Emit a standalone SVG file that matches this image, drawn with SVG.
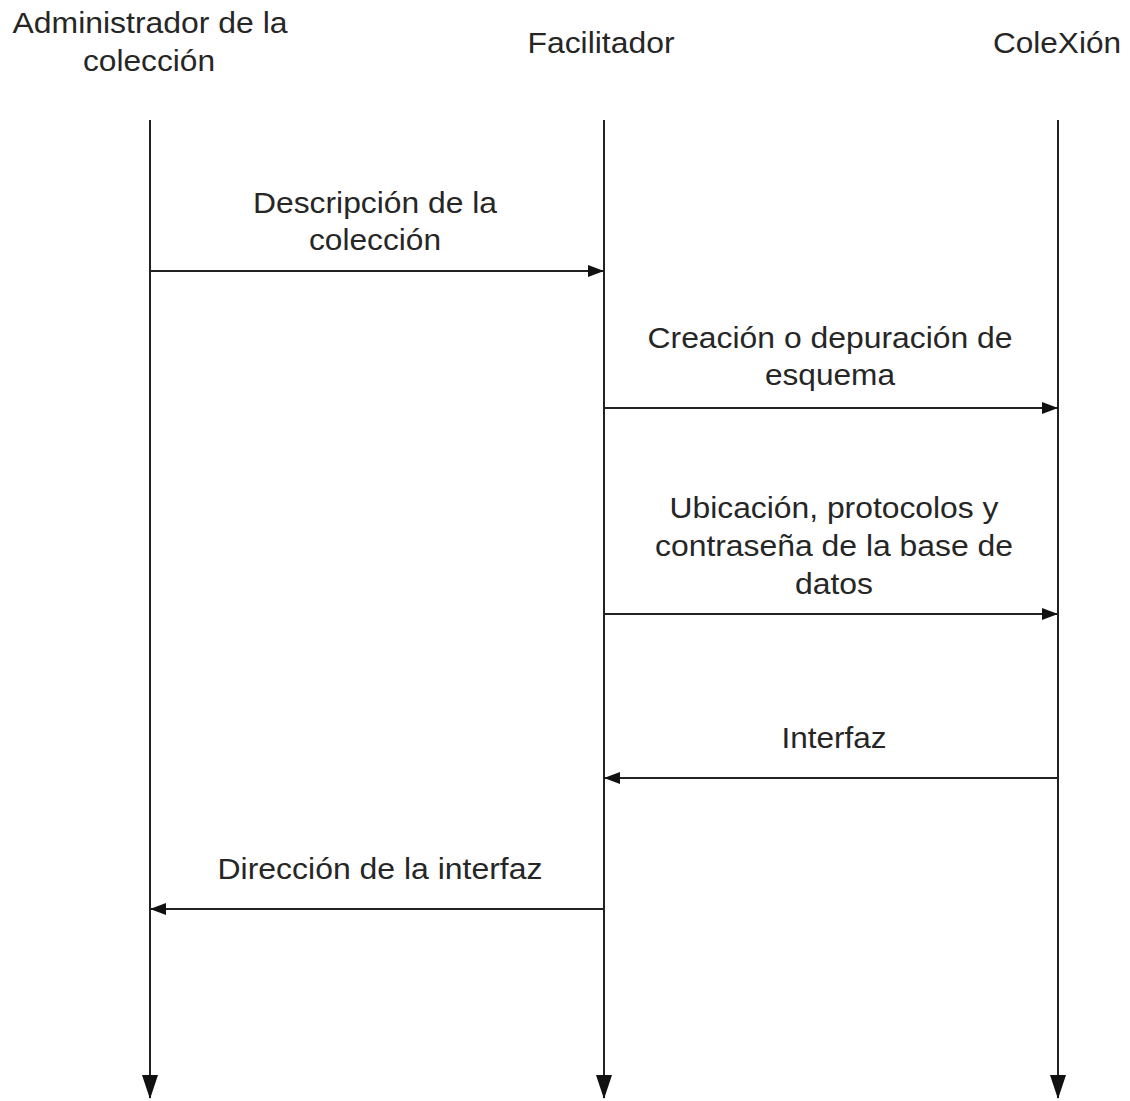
<svg xmlns="http://www.w3.org/2000/svg" width="1130" height="1101" viewBox="0 0 1130 1101">
<style>
text{font-family:"Liberation Sans",Arial,sans-serif;font-size:29px;fill:#262626;text-anchor:middle}
.life{stroke:#222;stroke-width:2;fill:none}
.msg{stroke:#222;stroke-width:2;fill:none}
</style>
<defs>
<marker id="big" viewBox="0 0 24 16" refX="23" refY="8" markerUnits="userSpaceOnUse" markerWidth="24" markerHeight="16" orient="auto">
<path d="M0,0 L24,8 L0,16 Z" fill="#111"/>
</marker>
<marker id="small" viewBox="0 0 16 12" refX="16" refY="6" markerUnits="userSpaceOnUse" markerWidth="16" markerHeight="12" orient="auto">
<path d="M0,0 L16,6 L0,12 Z" fill="#111"/>
</marker>
</defs>
<rect width="1130" height="1101" fill="#fff"/>
<g id="admin">
<text x="150" y="33" textLength="275" lengthAdjust="spacingAndGlyphs">Administrador de la</text>
<text x="149" y="71" textLength="132" lengthAdjust="spacingAndGlyphs">colección</text>
</g>
<g id="facilitador">
<text x="601" y="53" textLength="147" lengthAdjust="spacingAndGlyphs">Facilitador</text>
</g>
<g id="colexion">
<text x="1057" y="53" textLength="128" lengthAdjust="spacingAndGlyphs">ColeXión</text>
</g>
<g id="connectors">
<path class="life" d="M150,120 V1098" marker-end="url(#big)"/>
<path class="life" d="M604,120 V1098" marker-end="url(#big)"/>
<path class="life" d="M1058,120 V1098" marker-end="url(#big)"/>
<path class="msg" d="M150,271 H604" marker-end="url(#small)"/>
<path class="msg" d="M604,408 H1058" marker-end="url(#small)"/>
<path class="msg" d="M604,614 H1058" marker-end="url(#small)"/>
<path class="msg" d="M1058,778 H604" marker-end="url(#small)"/>
<path class="msg" d="M604,909 H150" marker-end="url(#small)"/>
</g>
<g id="labels">
<text x="375" y="213" textLength="244" lengthAdjust="spacingAndGlyphs">Descripción de la</text>
<text x="375" y="250" textLength="132" lengthAdjust="spacingAndGlyphs">colección</text>
<text x="830" y="348" textLength="365" lengthAdjust="spacingAndGlyphs">Creación o depuración de</text>
<text x="830" y="385" textLength="130" lengthAdjust="spacingAndGlyphs">esquema</text>
<text x="834" y="518" textLength="329" lengthAdjust="spacingAndGlyphs">Ubicación, protocolos y</text>
<text x="834" y="556" textLength="358" lengthAdjust="spacingAndGlyphs">contraseña de la base de</text>
<text x="834" y="594" textLength="78" lengthAdjust="spacingAndGlyphs">datos</text>
<text x="834" y="748" textLength="105" lengthAdjust="spacingAndGlyphs">Interfaz</text>
<text x="380" y="879" textLength="325" lengthAdjust="spacingAndGlyphs">Dirección de la interfaz</text>
</g>
</svg>
